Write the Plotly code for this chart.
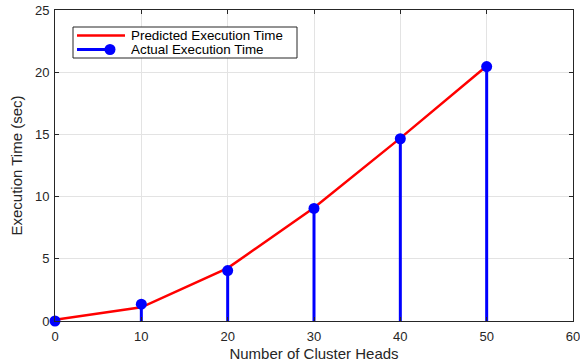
import plotly.graph_objects as go

cluster_heads = [0, 10, 20, 30, 40, 50]
predicted_time = [0.1, 1.1, 4.25, 9.1, 14.7, 20.5]
actual_time = [0.0, 1.35, 4.05, 9.05, 14.65, 20.45]
x_ticks = [0, 10, 20, 30, 40, 50, 60]
y_ticks = [0, 5, 10, 15, 20, 25]
series_names = ["Predicted Execution Time", "Actual Execution Time"]

FONT = "Liberation Sans, Arial"
INK = "#262626"
W, H = 580, 363
L, R, T, B = 55, 7, 10, 42
PW, PH = W - L - R, H - T - B

def px_x(p):
    return (p - L) / PW

def px_y(p):
    return (H - B - p) / PH

stem_x, stem_y = [], []
for xv, yv in zip(cluster_heads, actual_time):
    stem_x += [xv, xv, None]
    stem_y += [0, yv, None]

fig = go.Figure()
fig.add_trace(go.Scatter(
    x=cluster_heads, y=predicted_time, mode="lines",
    line=dict(color="#ff0000", width=2.5),
    name=series_names[0], showlegend=False))
fig.add_trace(go.Scatter(
    x=stem_x, y=stem_y, mode="lines",
    line=dict(color="#0000ff", width=3),
    showlegend=False, hoverinfo="skip"))
fig.add_trace(go.Scatter(
    x=cluster_heads, y=actual_time, mode="markers",
    marker=dict(color="#0000ff", size=11, symbol="circle", opacity=1, line=dict(width=0)),
    name=series_names[1], showlegend=False, cliponaxis=False))

axis_common = dict(
    showgrid=True, gridcolor="#e3e3e3", gridwidth=1,
    showline=True, linecolor=INK, linewidth=1, mirror="ticks",
    ticks="inside", ticklen=4, tickcolor=INK,
    zeroline=False, automargin=False, ticklabeloverflow="allow",
    tickfont=dict(family=FONT, size=13, color=INK),
)
fig.update_xaxes(range=[0, 60], tickvals=x_ticks, ticklabelstandoff=3,
                 title=dict(text="Number of Cluster Heads", standoff=5,
                            font=dict(family=FONT, size=15, color=INK)),
                 **axis_common)
fig.update_yaxes(range=[0, 25], tickvals=y_ticks, ticklabelstandoff=2,
                 title=dict(text="Execution Time (sec)", standoff=8,
                            font=dict(family=FONT, size=15, color=INK)),
                 **axis_common)

ROW1, ROW2 = 35.5, 49.5
shapes = [
    dict(type="rect", xref="paper", yref="paper",
         x0=px_x(73), x1=px_x(297), y0=px_y(58), y1=px_y(27),
         line=dict(color=INK, width=1), fillcolor="white", layer="above"),
    dict(type="line", xref="paper", yref="paper",
         x0=px_x(77), x1=px_x(125), y0=px_y(ROW1), y1=px_y(ROW1),
         line=dict(color="#ff0000", width=2.5), layer="above"),
    dict(type="line", xref="paper", yref="paper",
         x0=px_x(77), x1=px_x(112), y0=px_y(ROW2), y1=px_y(ROW2),
         line=dict(color="#0000ff", width=3), layer="above"),
    dict(type="circle", xref="paper", yref="paper",
         xsizemode="pixel", ysizemode="pixel",
         xanchor=px_x(110), yanchor=px_y(ROW2),
         x0=-5.5, x1=5.5, y0=-5.5, y1=5.5,
         line=dict(width=0), fillcolor="#0000ff", layer="above"),
]
annotations = [
    dict(text=series_names[0], xref="paper", yref="paper",
         x=px_x(129), y=px_y(ROW1), xanchor="left", yanchor="middle",
         height=13, valign="middle",
         showarrow=False, font=dict(family=FONT, size=13.4, color="#000000")),
    dict(text=series_names[1], xref="paper", yref="paper",
         x=px_x(129), y=px_y(ROW2), xanchor="left", yanchor="middle",
         height=13, valign="middle",
         showarrow=False, font=dict(family=FONT, size=13.4, color="#000000")),
]

fig.update_layout(
    width=W, height=H,
    margin=dict(l=L, r=R, t=T, b=B),
    plot_bgcolor="white", paper_bgcolor="white",
    showlegend=False,
    shapes=shapes, annotations=annotations,
)

fig.write_html("out.html", config={"displayModeBar": False})
with open("out.html", "r", encoding="utf-8") as f:
    html = f.read()
html = html.replace("<body>", '<body style="margin:0;padding:0;">', 1)
with open("out.html", "w", encoding="utf-8") as f:
    f.write(html)
